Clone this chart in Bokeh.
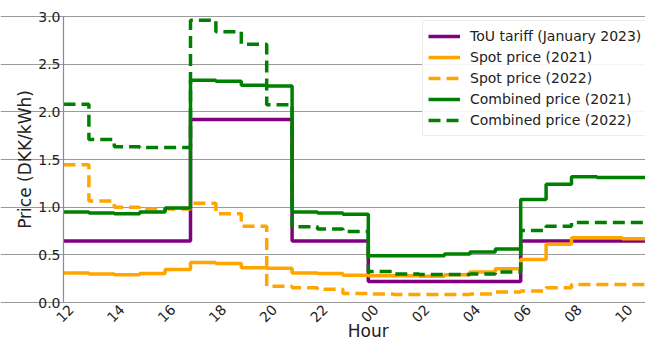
import math
from bokeh.plotting import figure
from bokeh.models import FixedTicker, Range1d, Label
from bokeh.embed import file_html
from bokeh.resources import INLINE

# hourly values, starting at hour 12 (noon) and running to hour 11 of the next day
hours = list(range(12, 36))
tou_tariff = [0.645, 0.645, 0.645, 0.645, 0.645, 1.92, 1.92, 1.92, 1.92, 0.645, 0.645, 0.645,
              0.22, 0.22, 0.22, 0.22, 0.22, 0.22, 0.645, 0.645, 0.645, 0.645, 0.645, 0.645]
spot_2021 = [0.31, 0.30, 0.29, 0.305, 0.345, 0.42, 0.41, 0.365, 0.36, 0.31, 0.305, 0.285,
             0.28, 0.28, 0.275, 0.29, 0.32, 0.355, 0.45, 0.61, 0.68, 0.68, 0.67, 0.68]
spot_2022 = [1.445, 1.065, 1.0, 0.98, 0.98, 1.04, 0.93, 0.80, 0.17, 0.155, 0.14, 0.095,
             0.09, 0.085, 0.085, 0.085, 0.09, 0.11, 0.12, 0.155, 0.19, 0.19, 0.19, 0.18]
combined_2021 = [0.95, 0.94, 0.93, 0.95, 0.99, 2.33, 2.32, 2.28, 2.27, 0.95, 0.94, 0.925,
                 0.49, 0.49, 0.49, 0.51, 0.53, 0.56, 1.08, 1.24, 1.32, 1.31, 1.31, 1.32]
combined_2022 = [2.08, 1.71, 1.635, 1.625, 1.625, 2.96, 2.84, 2.71, 2.075, 0.795, 0.77, 0.745,
                 0.325, 0.30, 0.295, 0.295, 0.30, 0.32, 0.755, 0.80, 0.84, 0.84, 0.84, 0.825]

tick_hours = [12, 14, 16, 18, 20, 22, 24, 26, 28, 30, 32, 34]
tick_labels = ["12", "14", "16", "18", "20", "22", "00", "02", "04", "06", "08", "10"]
y_ticks = [0.0, 0.5, 1.0, 1.5, 2.0, 2.5, 3.0]
x_min, x_max = 12, 36
y_min, y_max = 0.0, 3.0

series = [
    ("ToU tariff (January 2023)", tou_tariff, "#800080", "solid"),
    ("Spot price (2021)", spot_2021, "#FFA500", "solid"),
    ("Spot price (2022)", spot_2022, "#FFA500", "12 6"),
    ("Combined price (2021)", combined_2021, "#008000", "solid"),
    ("Combined price (2022)", combined_2022, "#008000", "12 6"),
]

FONT = "DejaVu Sans"
TXT = "#222222"

# layout in pixels (canvas = whole drawing area; the axes box sits inside it)
W, H = 645, 339
LEFT, TOP, BOTTOM = 63, 16, 37          # space for y labels, above, and below the axes
PX_PER_HOUR = 25.4
PX_PER_UNIT = (H - TOP - BOTTOM) / (y_max - y_min)
xr = Range1d(x_min - LEFT / PX_PER_HOUR, x_min + (W - LEFT) / PX_PER_HOUR)
yr = Range1d(y_min - BOTTOM / PX_PER_UNIT, y_max + TOP / PX_PER_UNIT)

p = figure(width=W, height=H, output_backend="svg", toolbar_location=None,
           x_range=xr, y_range=yr)
p.min_border = 0
p.min_border_left = 0
p.min_border_right = 0
p.min_border_top = 0
p.min_border_bottom = 0
p.outline_line_color = None
p.background_fill_color = "white"
p.border_fill_color = "white"

# grid (horizontal lines only, within the axes box)
p.xgrid.grid_line_color = None
p.ygrid.ticker = FixedTicker(ticks=y_ticks)
p.ygrid.bounds = (x_min, x_max)
p.ygrid.grid_line_color = "#9a9a9a"
p.ygrid.grid_line_width = 1.2

xs = hours + [hours[-1] + 1]
for name, vals, color, dash in series:
    ys = vals + [vals[-1]]
    p.step(xs, ys, mode="after", line_color=color, line_width=3.5,
           line_dash=dash, legend_label=name)

# x axis drawn by hand (its line is the 0.0 grid line)
p.xaxis.visible = False
for h, lbl in zip(tick_hours, tick_labels):
    p.add_layout(Label(x=h + 1.5 / PX_PER_HOUR, y=-11 / PX_PER_UNIT, text=lbl,
                       angle=math.pi / 4, text_align="center", text_baseline="middle",
                       text_font=FONT, text_font_size="14px", text_color=TXT))
p.add_layout(Label(x=(x_min + x_max) / 2, y=-28 / PX_PER_UNIT, text="Hour",
                   text_align="center", text_baseline="middle",
                   text_font=FONT, text_font_size="17px", text_color=TXT))

# y axis pinned to the left edge of the axes box
ya = p.yaxis[0]
ya.fixed_location = x_min
ya.bounds = (y_min, y_max)
ya.ticker = FixedTicker(ticks=y_ticks)
ya.major_label_overrides = {v: f"{v:.1f}" for v in y_ticks}
ya.axis_line_color = "#8c8c8c"
ya.axis_line_width = 1.2
ya.major_tick_line_color = None
ya.minor_tick_line_color = None
ya.major_tick_out = 0
ya.major_tick_in = 0
ya.major_label_standoff = 3
ya.major_label_text_font = FONT
ya.major_label_text_font_size = "14px"
ya.major_label_text_color = TXT
ya.axis_label = "Price (DKK/kWh)"
ya.axis_label_standoff = 0
ya.axis_label_text_font = FONT
ya.axis_label_text_font_size = "17px"
ya.axis_label_text_font_style = "normal"
ya.axis_label_text_color = TXT

# legend
lg = p.legend[0]
lg.location = (422, 203)
lg.label_text_font = FONT
lg.label_text_font_size = "14px"
lg.label_text_color = TXT
lg.glyph_width = 32
lg.glyph_height = 20
lg.label_height = 20
lg.spacing = 1
lg.padding = 5
lg.margin = 0
lg.label_standoff = 10
lg.border_line_color = "#d9d9d9"
lg.border_line_width = 1
lg.background_fill_color = "white"
lg.background_fill_alpha = 0.9

open("out.html", "w").write(file_html(p, INLINE))
